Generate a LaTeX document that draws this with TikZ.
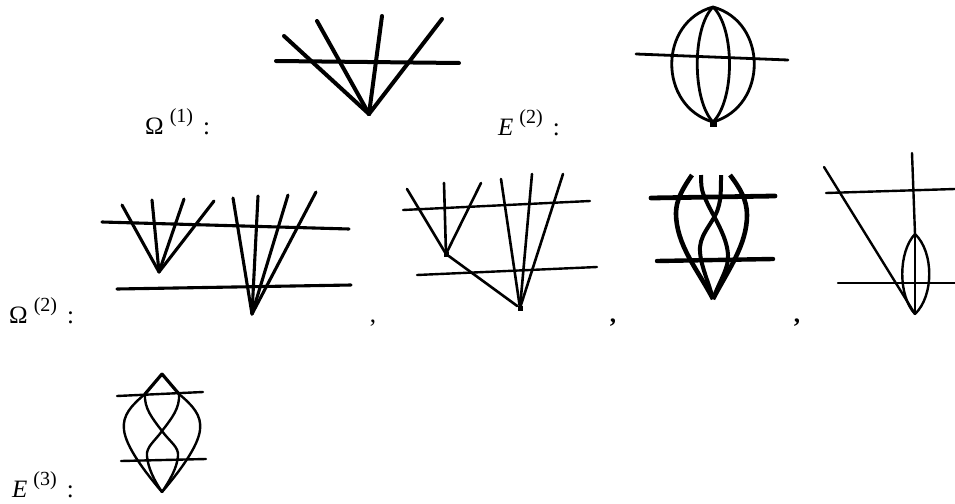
\documentclass[tikz,border=0pt]{standalone}
\usepackage{fontspec}
\setmainfont{Liberation Serif}
\usetikzlibrary{positioning, calc}
\newcommand{\idx}[1]{\hspace{6pt}\raisebox{12pt}{\fontsize{20}{20}\selectfont(#1)}\hspace{10pt}:}
\begin{document}
\begin{tikzpicture}[x=1pt, y=-1pt,
  lab/.style={anchor=base west, inner sep=0pt, font=\fontsize{25}{27}\selectfont},
  comma/.style={anchor=base, inner sep=0pt, font=\fontsize{25}{27}\selectfont},
  heavy/.style={line width=4pt, line cap=round},
  medium/.style={line width=3.1pt, line cap=round},
  light/.style={line width=2.4pt, line cap=round},
  bold/.style={line width=4.6pt},
  dotv/.style={inner sep=0pt, minimum size=5pt, fill=black}
]
\useasboundingbox (0,0) rectangle (955,503);
%% LABELS
\node[lab] (om1) at (145,134) {Ω\idx{1}};
\node[lab] (en2) at (498,135) {\textit{E}\idx{2}};
\node[lab] (om2) at (9,323)   {Ω\idx{2}};
\node[lab] (en3) at (12,497)  {\textit{E}\idx{3}};
\node[comma] (ca) at (373,322) {,};
\node[comma] (cb) at (613,322) {\textbf{,}};
\node[comma] (cc) at (797,322) {\textbf{,}};
%% OMEGA ONE
\coordinate (v1) at (369,114);
\draw[heavy] (276,61) -- (459,63);
\foreach \x/\y in {284/36, 317/21, 382/16, 442/19}
  \draw[heavy] (v1) -- (\x,\y);
%% E TWO
\coordinate (t2) at (713,7);
\coordinate (b2) at (713,122);
\draw[light, line width=2.8pt] (636,54) -- (788,60);
\draw[light, line width=2.8pt] (t2) .. controls (658,22) and (658,106) .. (b2);
\draw[light, line width=2.8pt] (t2) .. controls (768,22) and (768,106) .. (b2);
\draw[light, line width=2.8pt] (t2) .. controls (692,28) and (692,100) .. (b2);
\draw[light, line width=2.8pt] (t2) .. controls (735,28) and (735,100) .. (b2);
\node[dotv, minimum size=7pt] (d2) at (713,123) {};
%% OMEGA TWO, FIRST
\coordinate (va) at (159,272);
\coordinate (vb) at (252,314);
\draw[medium] (102,222) -- (349,229);
\draw[medium] (117,289) -- (351,285);
\foreach \x/\y in {122/205, 152/200, 184/199, 214/201}
  \draw[medium] (va) -- (\x,\y);
\foreach \x/\y in {233/198, 258/196, 288/195, 316/192}
  \draw[medium] (vb) -- (\x,\y);
%% OMEGA TWO, SECOND
\node[dotv] (vc) at (446,254) {};
\node[dotv] (vd) at (520,308) {};
\draw[light] (403,210) -- (590,201);
\draw[light] (417,275) -- (597,267);
\foreach \x/\y in {407/189, 444/183, 481/183}
  \draw[medium, line width=2.6pt] (vc.center) -- (\x,\y);
\foreach \x/\y in {501/179, 532/174, 563/174}
  \draw[medium, line width=2.6pt] (vd.center) -- (\x,\y);
\draw[medium, line width=2.6pt] (vc) -- (vd);
%% OMEGA TWO, THIRD
\coordinate (ve) at (713,299);
\draw[heavy, line width=4.8pt] (651,198) -- (775,196);
\draw[heavy, line width=4.4pt] (657,261) -- (773,259);
\draw[bold] (ve) .. controls (698,270) and (676,245) .. (676,213)
   .. controls (676,200) and (683,188) .. (692,175);
\draw[bold] (ve) .. controls (728,270) and (747,245) .. (747,215)
   .. controls (747,200) and (740,188) .. (730,175);
\draw[bold, line width=4pt] (ve) .. controls (708,280) and (699,262) .. (700,247)
   .. controls (701,232) and (716,220) .. (719,205)
   .. controls (721,197) and (721,187) .. (721,175);
\draw[bold, line width=4pt] (ve) .. controls (720,280) and (729,268) .. (728,255)
   .. controls (727,235) and (712,215) .. (705,198)
   .. controls (701,190) and (701,183) .. (701,175);
%% OMEGA TWO, FOURTH
\coordinate (vf) at (915,314);
\coordinate (tf) at (915,234);
\draw[light] (824,167) -- (vf);
\draw[light] (826,193) -- (955,189);
\draw[light] (838,283) -- (955,283);
\draw[light] (912,153) -- (tf);
\draw[light] (tf) -- (vf);
\draw[light] (tf) .. controls (898,252) and (898,296) .. (vf);
\draw[light] (tf) .. controls (934,252) and (934,296) .. (vf);
%% E THREE
\coordinate (t3) at (162,374);
\coordinate (b3) at (162,492);
\coordinate (x3) at (162,431);
\draw[light] (117,396) -- (203,392);
\draw[light] (121,461) -- (206,459);
\draw[light, line width=3.2pt] (t3) -- (145,394);
\draw[light, line width=3.2pt] (t3) -- (179,394);
\draw[light] (145,394) .. controls (132,405) and (122,415) .. (124,430)
   .. controls (126,447) and (145,472) .. (b3);
\draw[light] (179,394) .. controls (192,405) and (202,415) .. (200,430)
   .. controls (198,447) and (179,472) .. (b3);
\draw[light] (145,394) .. controls (144,408) and (152,418) .. (x3)
   .. controls (170,442) and (179,447) .. (178,456)
   .. controls (177,468) and (170,480) .. (b3);
\draw[light] (179,394) .. controls (180,408) and (172,418) .. (x3)
   .. controls (154,442) and (146,447) .. (147,456)
   .. controls (148,468) and (154,480) .. (b3);
\end{tikzpicture}
\end{document}
